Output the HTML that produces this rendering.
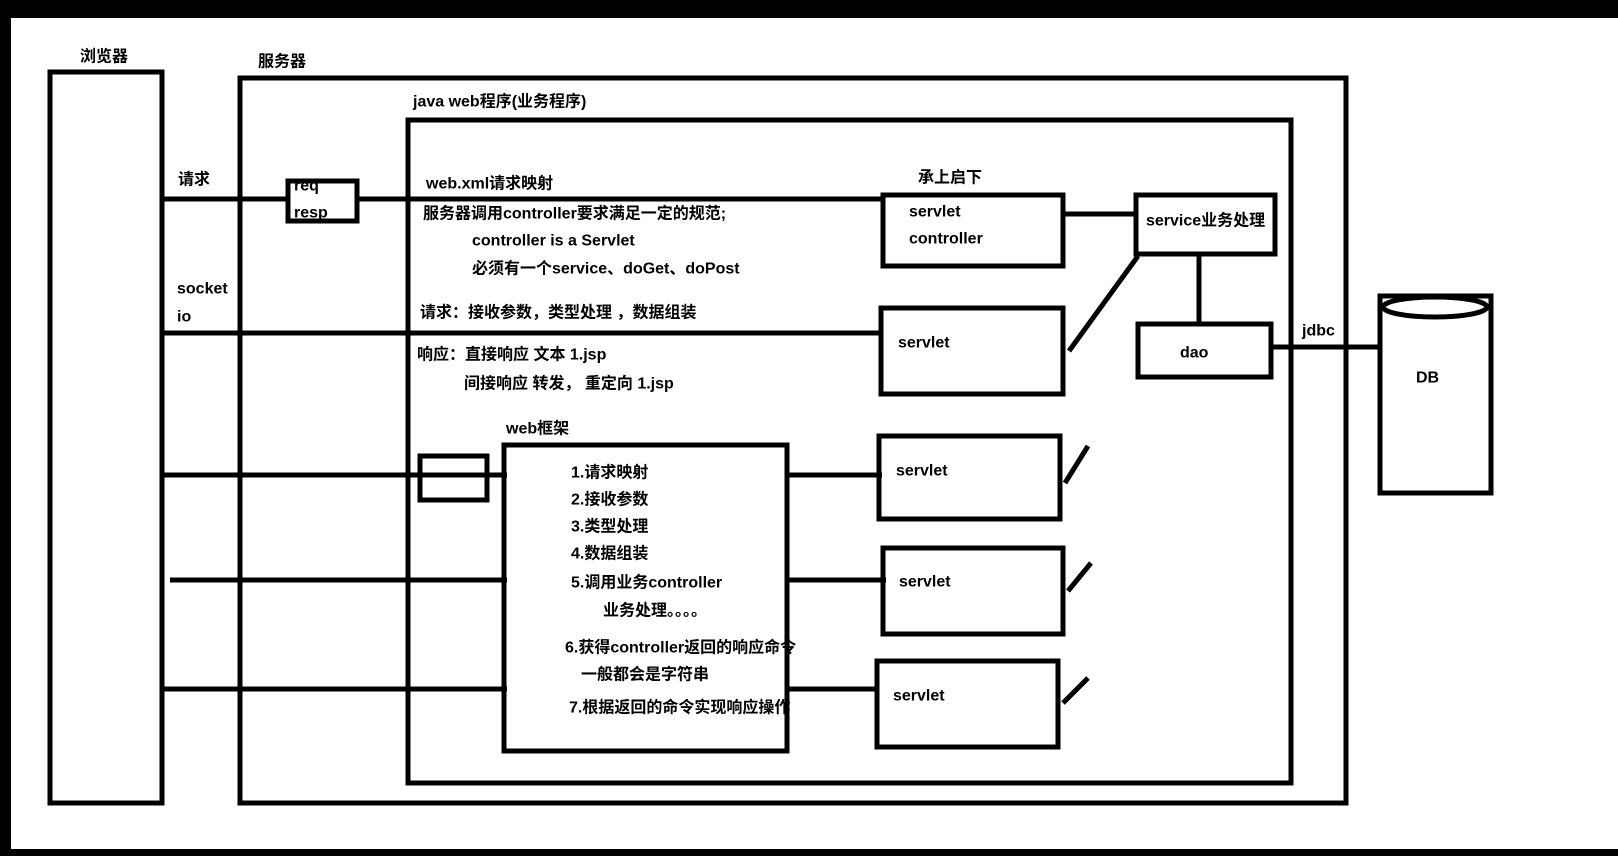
<!DOCTYPE html>
<html><head><meta charset="utf-8"><style>
html,body{margin:0;padding:0;background:#fff}
svg{display:block}
text{font-family:"Liberation Sans","Noto Sans CJK SC",sans-serif;font-weight:bold;font-size:16px;fill:#000;dominant-baseline:central}
</style></head><body>
<svg width="1618" height="856" viewBox="0 0 1618 856" xmlns="http://www.w3.org/2000/svg">
<rect x="0" y="0" width="1618" height="856" fill="#fff"/>
<rect x="0" y="0" width="1618" height="18" fill="#000"/>
<rect x="0" y="0" width="11" height="856" fill="#000"/>
<rect x="0" y="849" width="1618" height="7" fill="#000"/>
<g fill="none" stroke="#000" stroke-width="5">
<rect x="50" y="72" width="112" height="731"/>
<rect x="240" y="78" width="1106" height="725"/>
<rect x="408" y="120" width="883" height="663"/>
<rect x="288" y="181" width="69" height="40"/>
<rect x="883" y="195" width="180" height="71"/>
<rect x="1136" y="195" width="139" height="59"/>
<rect x="1138" y="324" width="133" height="53"/>
<rect x="1380" y="296" width="111" height="197"/>
<ellipse cx="1435" cy="307" rx="52" ry="10"/>
<rect x="881" y="308" width="182" height="86"/>
<rect x="504" y="445" width="283" height="306"/>
<rect x="420" y="456" width="67" height="44"/>
<rect x="879" y="436" width="181" height="83"/>
<rect x="883" y="548" width="180" height="86"/>
<rect x="877" y="661" width="181" height="86"/>
<line x1="162" y1="199" x2="288" y2="199"/>
<line x1="357" y1="199" x2="883" y2="199"/>
<line x1="1063" y1="214" x2="1136" y2="214"/>
<line x1="1199" y1="254" x2="1199" y2="324"/>
<line x1="1271" y1="347" x2="1380" y2="347"/>
<line x1="162" y1="333" x2="881" y2="333"/>
<line x1="1069" y1="351" x2="1138" y2="256"/>
<line x1="162" y1="475" x2="507" y2="475"/>
<line x1="170" y1="580" x2="507" y2="580"/>
<line x1="162" y1="689" x2="507" y2="689"/>
<line x1="787" y1="475" x2="882" y2="475"/>
<line x1="787" y1="580" x2="886" y2="580"/>
<line x1="787" y1="689" x2="877" y2="689"/>
<line x1="1065" y1="483" x2="1088" y2="446"/>
<line x1="1068" y1="591" x2="1091" y2="563"/>
<line x1="1063" y1="703" x2="1088" y2="678"/>
</g>
<text x="80" y="57">浏览器</text>
<text x="258" y="62">服务器</text>
<text x="413" y="102">java web程序(业务程序)</text>
<text x="178" y="180">请求</text>
<text x="294" y="186">req</text>
<text x="294" y="213">resp</text>
<text x="177" y="289">socket</text>
<text x="177" y="317">io</text>
<text x="426" y="184">web.xml请求映射</text>
<text x="423" y="214">服务器调用controller要求满足一定的规范;</text>
<text x="472" y="241">controller is a Servlet</text>
<text x="472" y="269">必须有一个service、doGet、doPost</text>
<text x="420" y="313">请求：接收参数，类型处理 ，数据组装</text>
<text x="417" y="355">响应：直接响应 文本 1.jsp</text>
<text x="464" y="384">间接响应 转发， 重定向  1.jsp</text>
<text x="918" y="178">承上启下</text>
<text x="909" y="212">servlet</text>
<text x="909" y="239">controller</text>
<text x="1146" y="221">service业务处理</text>
<text x="1180" y="353">dao</text>
<text x="1302" y="331">jdbc</text>
<text x="1416" y="378">DB</text>
<text x="898" y="343">servlet</text>
<text x="506" y="429">web框架</text>
<text x="571" y="473">1.请求映射</text>
<text x="571" y="500">2.接收参数</text>
<text x="571" y="527">3.类型处理</text>
<text x="571" y="554">4.数据组装</text>
<text x="571" y="583">5.调用业务controller</text>
<text x="603" y="611">业务处理。。。。</text>
<text x="565" y="648">6.获得controller返回的响应命令</text>
<text x="581" y="675">一般都会是字符串</text>
<text x="569" y="708">7.根据返回的命令实现响应操作</text>
<text x="896" y="471">servlet</text>
<text x="899" y="582">servlet</text>
<text x="893" y="696">servlet</text>
</svg>
</body></html>
